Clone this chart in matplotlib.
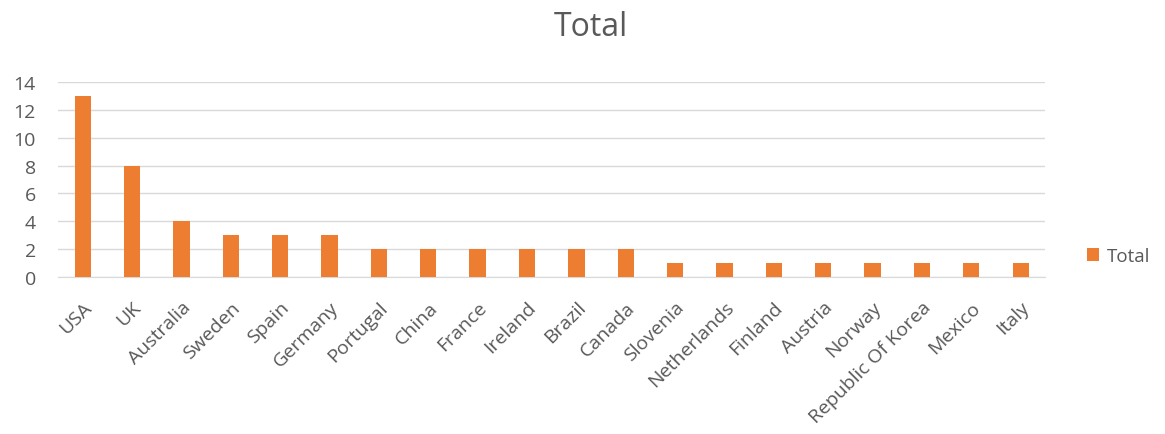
import matplotlib
matplotlib.use("Agg")
import matplotlib.pyplot as plt

plt.rcParams['font.family'] = ['Open Sans', 'DejaVu Sans']

countries = ['USA', 'UK', 'Australia', 'Sweden', 'Spain', 'Germany', 'Portugal',
             'China', 'France', 'Ireland', 'Brazil', 'Canada', 'Slovenia',
             'Netherlands', 'Finland', 'Austria', 'Norway', 'Republic Of Korea',
             'Mexico', 'Italy']
totals = [13, 8, 4, 3, 3, 3, 2, 2, 2, 2, 2, 2, 1, 1, 1, 1, 1, 1, 1, 1]

text_grey = '#595959'
bar_orange = '#ED7D31'

fig = plt.figure(figsize=(11.65, 4.35), dpi=100)
ax = fig.add_axes([0.0498, 0.361, 0.8475, 0.448])

x = range(len(countries))
ax.bar(x, totals, width=0.33, color=bar_orange, label='Total', zorder=3)

ax.set_xlim(-0.5, len(countries) - 0.5)
ax.set_ylim(0, 14)
ax.set_yticks(range(0, 15, 2))
ax.set_xticks(list(x))
ax.set_xticklabels(countries, rotation=45, ha='right', rotation_mode='anchor')

ax.grid(axis='y', color='#D9D9D9', linewidth=1, zorder=0)
for side in ['top', 'right', 'left']:
    ax.spines[side].set_visible(False)
ax.spines['bottom'].set_color('#D9D9D9')
ax.tick_params(axis='both', length=0, colors=text_grey, labelsize=14)
ax.tick_params(axis='y', pad=16)
ax.tick_params(axis='x', pad=15)

fig.text(0.507, 0.936, 'Total', ha='center', va='center', fontsize=23, color=text_grey)

leg = ax.legend(loc='center left', bbox_to_anchor=(1.025, 0.108), frameon=False,
                fontsize=13.5, handlelength=0.65, handleheight=0.65, handletextpad=0.4)
for t in leg.get_texts():
    t.set_color(text_grey)

fig.savefig('out.png', dpi=100)
